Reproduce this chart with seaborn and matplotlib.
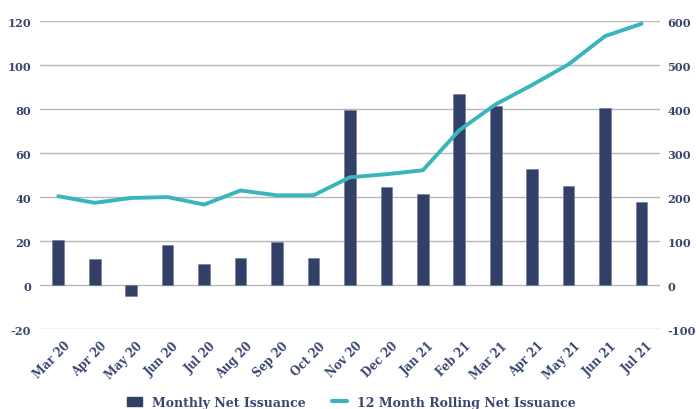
import pandas as pd
import matplotlib.pyplot as plt
import seaborn as sns
from matplotlib.patches import Patch
from matplotlib.lines import Line2D
from matplotlib.transforms import ScaledTranslation

months = ["Mar 20", "Apr 20", "May 20", "Jun 20", "Jul 20", "Aug 20", "Sep 20", "Oct 20",
          "Nov 20", "Dec 20", "Jan 21", "Feb 21", "Mar 21", "Apr 21", "May 21", "Jun 21", "Jul 21"]
monthly = [20.5, 11.8, -5.2, 18.2, 9.8, 12.1, 19.8, 12.4,
           79.5, 44.7, 41.5, 86.8, 81.2, 52.7, 45.1, 80.6, 37.9]
rolling = [202, 187, 198, 200, 183, 215, 204, 204,
           245, 252, 261, 352, 411, 455, 502, 566, 594]

NAVY = "#323f66"
TEAL = "#3ab5bd"
TXT = "#3a4670"
GRID = "#b8b8b8"

sns.set_style("white")
plt.rcParams["font.family"] = ["DejaVu Serif"]
plt.rcParams["axes.unicode_minus"] = False

df = pd.DataFrame({"month": months, "monthly": monthly, "rolling": rolling})

fig = plt.figure(figsize=(6.96, 4.10), dpi=100)
ax = fig.add_axes([0.0575, 0.195, 0.8905, 0.751])

sns.barplot(data=df, x="month", y="monthly", color=NAVY, width=0.32, ax=ax,
            saturation=1, edgecolor="#6d7899", linewidth=0.4)
ax.set_ylim(-20, 120)
ax.set_yticks(range(-20, 121, 20))
ax.yaxis.grid(True, color=GRID, linewidth=1)
ax.set_axisbelow(True)
ax.set_xlim(-0.5, len(months) - 0.5)
ax.set_xlabel(""); ax.set_ylabel("")

ax2 = ax.twinx()
sns.lineplot(x=list(range(len(months))), y=rolling, color=TEAL, linewidth=2.8,
             sort=False, ax=ax2)
ax2.set_ylim(-100, 600)
ax2.set_yticks(range(-100, 601, 100))
ax2.set_xlim(-0.5, len(months) - 0.5)

for a in (ax, ax2):
    for s in a.spines.values():
        s.set_visible(False)
    a.tick_params(length=0, colors=TXT, labelsize=8.2)
    for lab in a.get_yticklabels():
        lab.set_fontweight("bold")

ax.set_xticks(range(len(months)))
ax.set_xticklabels(months, rotation=45, ha="right", rotation_mode="anchor",
                   fontweight="bold", color=TXT, fontsize=8.3)
ax.tick_params(axis="x", pad=7)
ax.tick_params(axis="y", pad=6.5)
ax2.tick_params(axis="y", pad=5.5)
shift = ScaledTranslation(5 / 100, 0, fig.dpi_scale_trans)
for lab in ax.get_xticklabels():
    lab.set_transform(lab.get_transform() + shift)

handles = [Patch(facecolor=NAVY, edgecolor=NAVY),
           Line2D([0], [0], color=TEAL, linewidth=3)]
leg = fig.legend(handles, ["Monthly Net Issuance", "12 Month Rolling Net Issuance"],
                 loc="lower center", bbox_to_anchor=(0.505, -0.027), ncol=2, frameon=False,
                 prop={"size": 9.0, "weight": "bold"}, handlelength=1.2, handleheight=0.8,
                 columnspacing=2.1, handletextpad=0.8)
for t in leg.get_texts():
    t.set_color(TXT)

plt.savefig("out.png", dpi=100)
